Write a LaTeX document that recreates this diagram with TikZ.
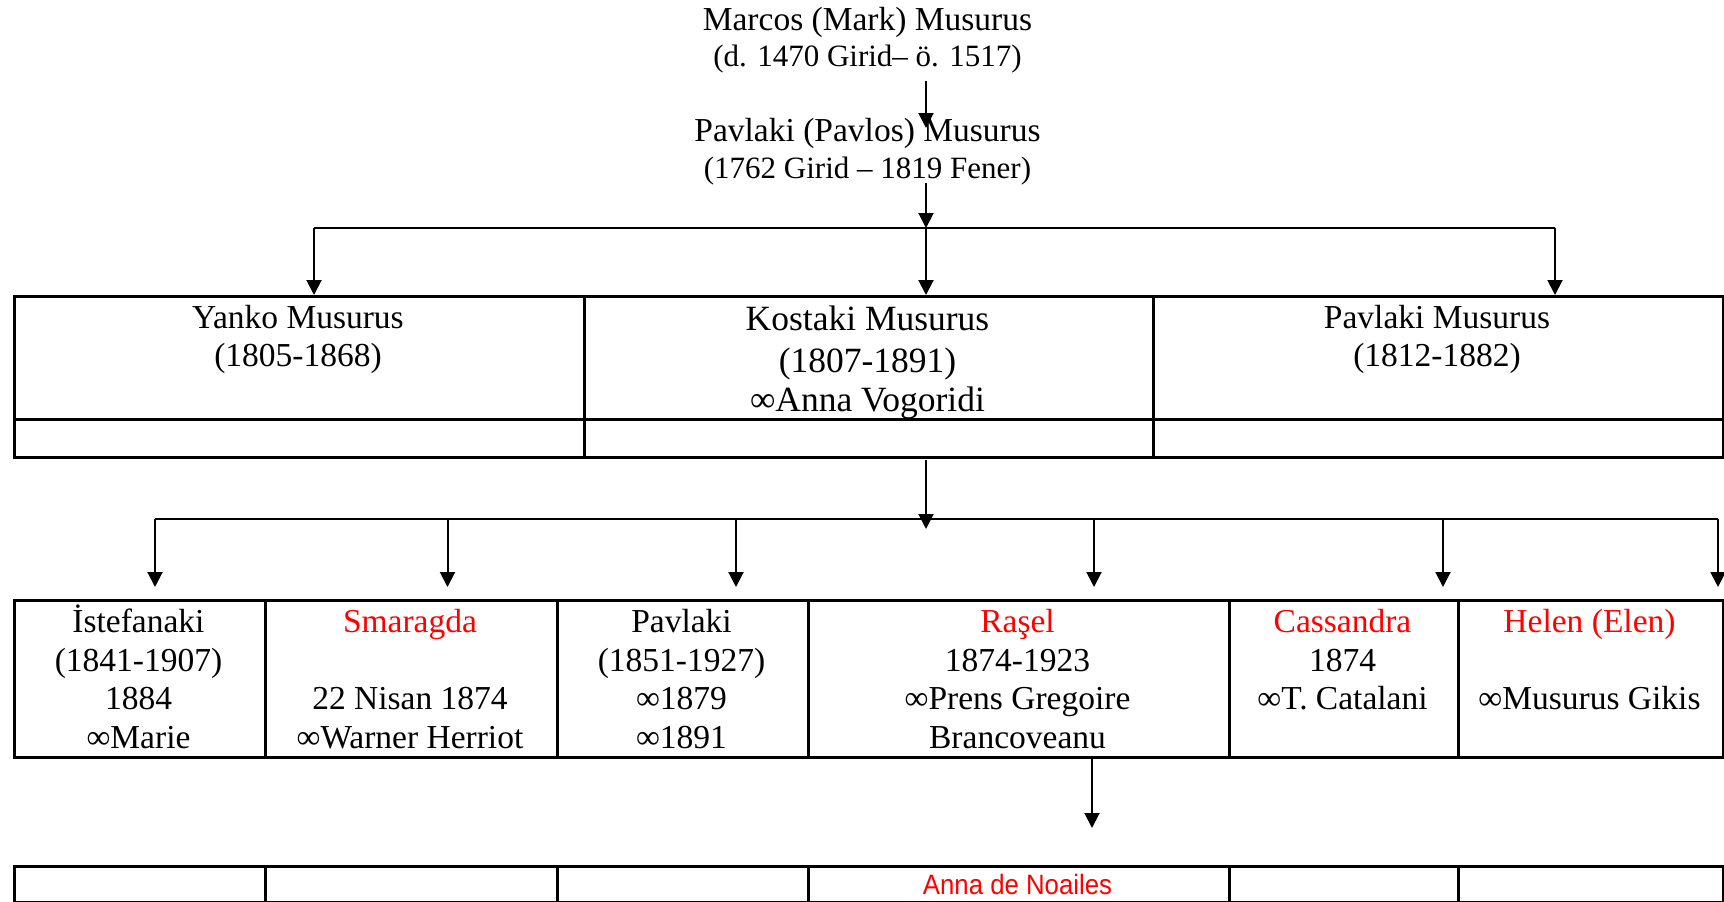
\documentclass[tikz,border=0pt]{standalone}
\usepackage{fontspec}
\setmainfont{Liberation Serif}
\newfontfamily\annafont[FakeStretch=0.92]{Liberation Sans}
\usetikzlibrary{arrows.meta}
\begin{document}
\begin{tikzpicture}[x=1pt,y=-1pt,
  cell/.style={draw, line width=3pt, inner sep=0pt, anchor=north west},
  conn/.style={line width=2pt},
  arr/.style={line width=2pt, -{Triangle[width=15pt,length=15pt]}},
  txt/.style={anchor=base, inner sep=0pt, font=\fontsize{33.5}{40}\selectfont},
  smalltxt/.style={anchor=base, inner sep=0pt, font=\fontsize{31}{37}\selectfont},
  bigtxt/.style={anchor=base, inner sep=0pt, font=\fontsize{35.5}{43}\selectfont},
  redtxt/.style={text=red},
  annatxt/.style={anchor=base, inner sep=0pt, text=red, font=\annafont\fontsize{28}{34}\selectfont}
]
\useasboundingbox (0,0) rectangle (1724,902);

% ---------- top texts ----------
\node[txt] (marcos)  at (867.5,30)  {Marcos (Mark) Musurus};
\node[smalltxt] (marcosd) at (867.5,66)  {(d. 1470 Girid– ö. 1517)};
\node[txt] (pavlos)  at (867.5,141) {Pavlaki (Pavlos) Musurus};
\node[smalltxt] (pavlosd) at (867.5,178) {(1762 Girid – 1819 Fener)};

% ---------- first table ----------
\node[cell, minimum width=570pt, minimum height=123pt] (yanko)    at (13,295)   {};
\node[cell, minimum width=570pt, minimum height=38pt]  (yankob)   at (13,418)   {};
\node[cell, minimum width=569pt, minimum height=123pt] (kostaki)  at (583,295)  {};
\node[cell, minimum width=569pt, minimum height=38pt]  (kostakib) at (583,418)  {};
\node[cell, minimum width=570pt, minimum height=123pt] (pavm)     at (1152,295) {};
\node[cell, minimum width=570pt, minimum height=38pt]  (pavmb)    at (1152,418) {};

\node[txt] (yanko1) at (298,328) {Yanko Musurus};
\node[txt] (yanko2) at (298,366) {(1805-1868)};
\node[bigtxt] (kost1) at (867.5,330) {Kostaki Musurus};
\node[bigtxt] (kost2) at (867.5,372) {(1807-1891)};
\node[bigtxt] (kost3) at (867.5,411) {∞Anna Vogoridi};
\node[txt] (pavm1) at (1437,328) {Pavlaki Musurus};
\node[txt] (pavm2) at (1437,366) {(1812-1882)};

% ---------- second table ----------
\node[cell, minimum width=251pt, minimum height=157pt] (iste) at (13,599)   {};
\node[cell, minimum width=292pt, minimum height=157pt] (smar) at (264,599)  {};
\node[cell, minimum width=251pt, minimum height=157pt] (pavk) at (556,599)  {};
\node[cell, minimum width=421pt, minimum height=157pt] (rase) at (807,599)  {};
\node[cell, minimum width=229pt, minimum height=157pt] (cass) at (1228,599) {};
\node[cell, minimum width=265pt, minimum height=157pt] (hele) at (1457,599) {};

\node[txt] (iste1) at (138.5,632) {İstefanaki};
\node[txt] (iste2) at (138.5,671) {(1841-1907)};
\node[txt] (iste3) at (138.5,709.5) {1884};
\node[txt] (iste4) at (138.5,748) {∞Marie};

\node[txt, redtxt] (smar1) at (410,632) {Smaragda};
\node[txt] (smar3) at (410,709.5) {22 Nisan 1874};
\node[txt] (smar4) at (410,748) {∞Warner Herriot};

\node[txt] (pavk1) at (681.5,632) {Pavlaki};
\node[txt] (pavk2) at (681.5,671) {(1851-1927)};
\node[txt] (pavk3) at (681.5,709.5) {∞1879};
\node[txt] (pavk4) at (681.5,748) {∞1891};

\node[txt, redtxt] (rase1) at (1017.5,632) {Raşel};
\node[txt] (rase2) at (1017.5,671) {1874-1923};
\node[txt] (rase3) at (1017.5,709.5) {∞Prens Gregoire};
\node[txt] (rase4) at (1017.5,748) {Brancoveanu};

\node[txt, redtxt] (cass1) at (1342.5,632) {Cassandra};
\node[txt] (cass2) at (1342.5,671) {1874};
\node[txt] (cass3) at (1342.5,709.5) {∞T. Catalani};

\node[txt, redtxt] (hele1) at (1589.5,632) {Helen (Elen)};
\node[txt] (hele3) at (1589.5,709.5) {∞Musurus Gikis};

% ---------- third table ----------
\node[cell, minimum width=251pt, minimum height=36pt] (c1) at (13,865)   {};
\node[cell, minimum width=292pt, minimum height=36pt] (c2) at (264,865)  {};
\node[cell, minimum width=251pt, minimum height=36pt] (c3) at (556,865)  {};
\node[cell, minimum width=421pt, minimum height=36pt] (anna) at (807,865) {};
\node[cell, minimum width=229pt, minimum height=36pt] (c5) at (1228,865) {};
\node[cell, minimum width=265pt, minimum height=36pt] (c6) at (1457,865) {};
\node[annatxt] (annat) at (1017.5,894) {Anna de Noailes};

% ---------- connectors ----------
\coordinate (a1s) at (926,81);
\coordinate (a1e) at (926,128);
\draw[arr] (a1s) -- (a1e);

\coordinate (a2s) at (926,183);
\coordinate (j1)  at (926,228);
\coordinate (j1l) at (314,228);
\coordinate (j1r) at (1555,228);
\draw[arr] (a2s) -- (j1);
\draw[conn] (j1l) -- (j1r);
\draw[arr] (j1l) -- (j1l |- yanko.north);
\draw[arr] (j1) -- (j1 |- kostaki.north);
\draw[arr] (j1r) -- (j1r |- pavm.north);

\coordinate (a3s) at (926,460);
\coordinate (a3e) at (926,529);
\draw[arr] (a3s) -- (a3e);

\coordinate (j2l) at (155,519);
\coordinate (j2r) at (1718,519);
\draw[conn] (j2l) -- (j2r);
\coordinate (t1) at (155,587);
\coordinate (t2) at (447.5,587);
\coordinate (t3) at (736,587);
\coordinate (t4) at (1094,587);
\coordinate (t5) at (1443,587);
\coordinate (t6) at (1718,587);
\foreach \t in {t1,t2,t3,t4,t5,t6}{
  \draw[arr] (\t |- j2l) -- (\t);
}

\coordinate (a4s) at (1092,759);
\coordinate (a4e) at (1092,828);
\draw[arr] (a4s) -- (a4e);
\end{tikzpicture}
\end{document}
